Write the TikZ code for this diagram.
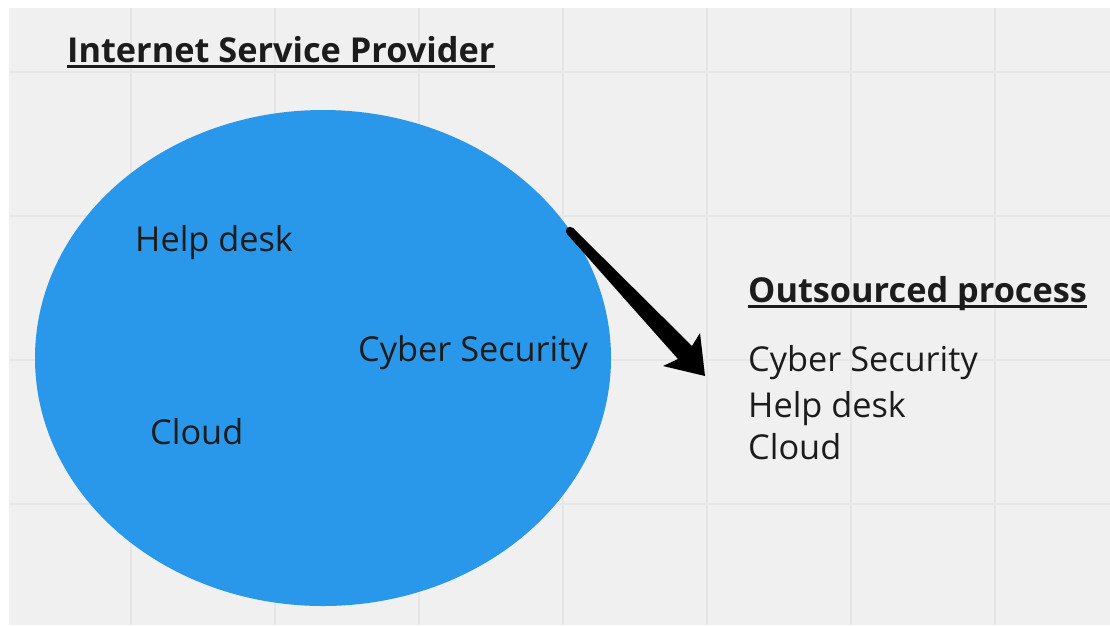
\documentclass[tikz,border=0pt]{standalone}
\usepackage{fontspec}
\setmainfont{Open Sans}
\usetikzlibrary{shapes.geometric}
\definecolor{canvas}{HTML}{F0F0F0}
\definecolor{gridline}{HTML}{E6E6E6}
\definecolor{bubble}{HTML}{2997EA}
\definecolor{ink}{HTML}{1C1C1C}
\tikzset{
  label text/.style={anchor=base west, inner sep=0pt, text=ink,
    font=\fontsize{34.3}{41}\selectfont},
  heading/.style={label text, font=\fontsize{34.3}{41}\selectfont\bfseries},
  rule/.style={ink, line width=2.2pt},
}
\begin{document}
\begin{tikzpicture}[x=1pt, y=-1pt]
  \useasboundingbox (0,0) rectangle (1110,625);
  \fill[white] (0,0) rectangle (1110,625);
  \fill[canvas] (9,8) rectangle (1110,625);
  % background grid
  \foreach \gx in {131,275,419,563,707,851,995}
    \draw[gridline, line width=1.4pt] (\gx,8) -- (\gx,625);
  \foreach \gy in {72,216,360,504}
    \draw[gridline, line width=1.4pt] (9,\gy) -- (1110,\gy);

  % the provider
  \node[ellipse, fill=bubble, minimum width=576pt, minimum height=496pt, inner sep=0pt] (isp) at (323,358) {};
  \node[heading] (title) at (67,62) {Internet Service Provider};
  \draw[rule] ([yshift=-4.5pt]title.base west) -- ([yshift=-4.5pt]title.base east);
  \node[label text] (help) at (135,251) {Help desk};
  \node[label text] (cyber) at (358,361) {Cyber Security};
  \node[label text] (cloud) at (150,444) {Cloud};

  % outsourced side
  \node[heading] (out) at (748,302) {Outsourced process};
  \draw[rule] ([yshift=-4.5pt]out.base west) -- ([yshift=-4.5pt]out.base east);
  \node[label text] (ocyber) at (748,371) {Cyber Security};
  \node[label text] (ohelp) at (748,417) {Help desk};
  \node[label text] (ocloud) at (748,459) {Cloud};

  % tapered arrow
  \coordinate (atail) at (570,231);
  \coordinate (atip) at (705,376);
  \fill[black, line join=round]
    ([shift={(-3,3)}]atail) -- ([shift={(3,-3)}]atail) -- (692,346) -- (700,333)
    -- (atip) -- (663,366) -- (678,359) -- cycle;
  \fill[black] (atail) circle (4.2pt);
\end{tikzpicture}
\end{document}
